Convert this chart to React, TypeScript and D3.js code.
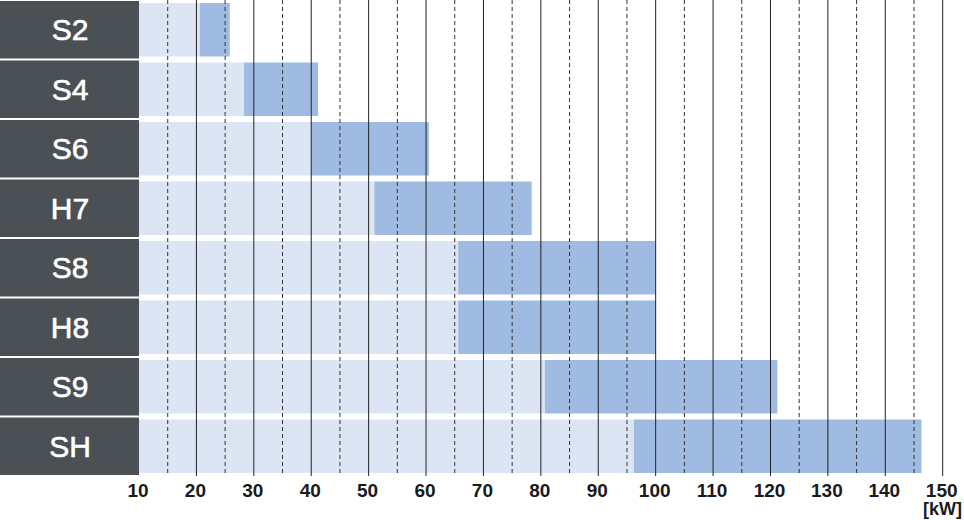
import React, { useEffect, useRef } from "react";
import * as d3 from "d3";

interface Range {
  model: string;
  min: number;
  max: number;
}

const models = ["S2", "S4", "S6", "H7", "S8", "H8", "S9", "SH"];
const minPower = [20.6, 28.3, 40, 51, 65.6, 65.6, 80.7, 96.2];
const maxPower = [25.8, 41.2, 60.5, 78.4, 100, 100, 121.2, 146.3];
const majorTicks = [10, 20, 30, 40, 50, 60, 70, 80, 90, 100, 110, 120, 130, 140, 150];
const minorTicks = [15, 25, 35, 45, 55, 65, 75, 85, 95, 105, 115, 125, 135, 145];
const unitLabel = "[kW]";

const ranges: Range[] = models.map((m, i) => ({ model: m, min: minPower[i], max: maxPower[i] }));

const width = 964;
const height = 520;

const App: React.FC = () => {
  const ref = useRef<SVGSVGElement | null>(null);

  useEffect(() => {
    if (!ref.current) return;
    const svg = d3.select(ref.current);
    svg.selectAll("*").remove();

    const labelWidth = 139;
    const plotBottom = 476;
    const font = "'Liberation Sans', Arial, Helvetica, sans-serif";

    const x = d3.scaleLinear().domain([10, 150]).range([labelWidth, 942.7]);
    const y = d3.scaleBand<string>().domain(models).range([0, plotBottom]);
    const step = y.step();

    // Label column
    svg.append("g")
      .selectAll("rect")
      .data(ranges)
      .enter()
      .append("rect")
      .attr("x", 0)
      .attr("y", d => (y(d.model) ?? 0) + 1)
      .attr("width", labelWidth)
      .attr("height", step - 2)
      .attr("fill", "#4b5055");

    svg.append("g")
      .selectAll("text")
      .data(ranges)
      .enter()
      .append("text")
      .attr("x", 70)
      .attr("y", d => (y(d.model) ?? 0) + step / 2 + 10.5)
      .attr("text-anchor", "middle")
      .attr("fill", "#ffffff")
      .attr("stroke", "#ffffff")
      .attr("stroke-width", 0.6)
      .style("font-family", font)
      .style("font-size", "30px")
      .text(d => d.model);

    // Light background up to range start
    svg.append("g")
      .selectAll("rect")
      .data(ranges)
      .enter()
      .append("rect")
      .attr("x", x(10))
      .attr("y", d => (y(d.model) ?? 0) + 3)
      .attr("width", d => x(d.min) - x(10))
      .attr("height", step - 6)
      .attr("fill", "#dce5f4");

    // Power range
    svg.append("g")
      .selectAll("rect")
      .data(ranges)
      .enter()
      .append("rect")
      .attr("x", d => x(d.min))
      .attr("y", d => (y(d.model) ?? 0) + 3)
      .attr("width", d => x(d.max) - x(d.min))
      .attr("height", step - 6)
      .attr("fill", "#9fbbe1");

    // Grid
    svg.append("g")
      .selectAll("line")
      .data(minorTicks)
      .enter()
      .append("line")
      .attr("x1", d => x(d))
      .attr("x2", d => x(d))
      .attr("y1", 0)
      .attr("y2", plotBottom)
      .attr("stroke", "#333")
      .attr("stroke-width", 1)
      .attr("stroke-dasharray", "4,3");

    svg.append("g")
      .selectAll("line")
      .data(majorTicks.filter(t => t > 10))
      .enter()
      .append("line")
      .attr("x1", d => x(d))
      .attr("x2", d => x(d))
      .attr("y1", 0)
      .attr("y2", plotBottom)
      .attr("stroke", "#222")
      .attr("stroke-width", 1);

    // Axis labels
    svg.append("g")
      .selectAll("text")
      .data(majorTicks)
      .enter()
      .append("text")
      .attr("x", d => x(d) - 1)
      .attr("y", 497)
      .attr("text-anchor", "middle")
      .attr("fill", "#1a1a1a")
      .style("font-family", font)
      .style("font-weight", "bold")
      .style("font-size", "19px")
      .text(d => d);

    svg.append("text")
      .attr("x", 962)
      .attr("y", 515)
      .attr("text-anchor", "end")
      .attr("fill", "#1a1a1a")
      .style("font-family", font)
      .style("font-weight", "bold")
      .style("font-size", "18px")
      .text(unitLabel);
  }, []);

  return (
    <svg
      ref={ref}
      width={width}
      height={height}
      style={{ position: "absolute", left: 0, top: 0, background: "#fff" }}
    />
  );
};

export default App;
